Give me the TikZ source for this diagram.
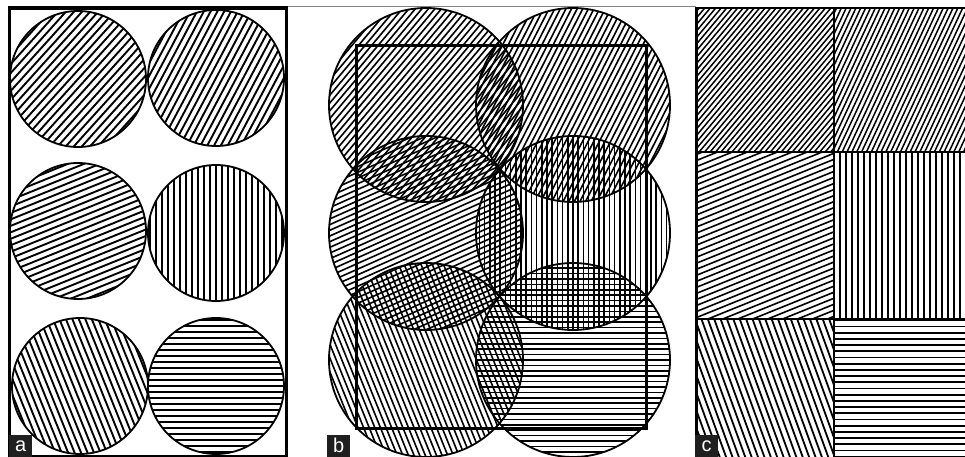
\documentclass[tikz,border=0pt]{standalone}
\usepackage{fontspec}
\setsansfont{Liberation Sans}
\newcommand\hcirc[6]{% cx, cy, r, angle, spacing, line width
  \begin{scope}
    \clip (#1,#2) circle[radius=#3];
    \begin{scope}[shift={(#1,#2)}, rotate=#4]
      \foreach \k in {-45,...,45} \draw[line width=#6] (-230,\k*#5) -- (230,\k*#5);
    \end{scope}
  \end{scope}}
\newcommand\hcell[7]{% x1, y1, x2, y2, angle, spacing, line width
  \begin{scope}
    \clip (#1,#2) rectangle (#3,#4);
    \begin{scope}[shift={({(#1+#3)/2},{(#2+#4)/2})}, rotate=#5]
      \foreach \k in {-45,...,45} \draw[line width=#7] (-230,\k*#6) -- (230,\k*#6);
    \end{scope}
  \end{scope}}
\begin{document}
\begin{tikzpicture}[x=1pt,y=-1pt,
  ring/.style={line width=1.8pt, black},
  frame/.style={line width=3pt, black},
  lab/.style={fill=black!88, text=white, font=\sffamily\fontsize{20}{20}\selectfont,
    minimum width=23pt, minimum height=22pt, inner sep=0pt, anchor=south west}]
\fill[white] (0,0) rectangle (965,457);
\useasboundingbox (0,0) rectangle (965,457);

% thin grey top line
\draw[gray, line width=1pt] (286,7) -- (696,7);

% ---------------- panel a ----------------
\hcirc{78}{79}{68}{48}{6}{1.9pt}
\hcirc{216}{78}{68}{62}{6}{1.9pt}
\hcirc{78}{231}{68}{22}{6}{1.9pt}
\hcirc{216}{233}{68}{90}{6}{1.9pt}
\hcirc{80}{386}{68}{-68}{6}{1.9pt}
\hcirc{216}{386}{68}{0}{6}{1.9pt}
\foreach \cx/\cy in {78/79, 216/78, 78/231, 216/233, 80/386, 216/386}
  \draw[ring] (\cx,\cy) circle[radius=68];
\draw[frame] (9,8) rectangle (286,456);
\draw[line width=4pt] (9,8) -- (286,8);

% ---------------- panel b ----------------
\hcirc{426}{105}{97}{50}{5}{1.6pt}
\hcirc{573}{105}{97}{63}{5}{1.6pt}
\hcirc{426}{233}{97}{24}{5.2}{1.6pt}
\hcirc{573}{233}{97}{90}{5.2}{1.6pt}
\hcirc{426}{360}{97}{-68}{5.2}{1.6pt}
\hcirc{573}{360}{97}{0}{5.4}{1.6pt}
\foreach \cx/\cy in {426/105, 573/105, 426/233, 573/233, 426/360, 573/360}
  \draw[ring] (\cx,\cy) circle[radius=97];
\draw[frame] (356,46) rectangle (646,428);

% ---------------- panel c ----------------
\hcell{696}{8}{834}{152}{50}{4.2}{1.5pt}
\hcell{834}{8}{966}{152}{65}{4.4}{1.5pt}
\hcell{696}{152}{834}{319}{22}{5.6}{1.6pt}
\hcell{834}{152}{966}{319}{90}{6}{1.8pt}
\hcell{696}{319}{834}{458}{-70}{6}{1.8pt}
\hcell{834}{319}{966}{458}{0}{6.2}{1.8pt}
\draw[line width=2pt] (696,8) -- (966,8);
\draw[frame] (696,7) -- (696,458);
\draw[line width=1.8pt] (834,8) -- (834,458);
\draw[line width=1.8pt] (696,152) -- (966,152);
\draw[line width=2.4pt] (696,319) -- (966,319);

% labels
\node[lab] (la) at (9,457) {a};
\node[lab] (lb) at (327,457) {b};
\node[lab] (lc) at (695,457) {c};
\end{tikzpicture}
\end{document}
